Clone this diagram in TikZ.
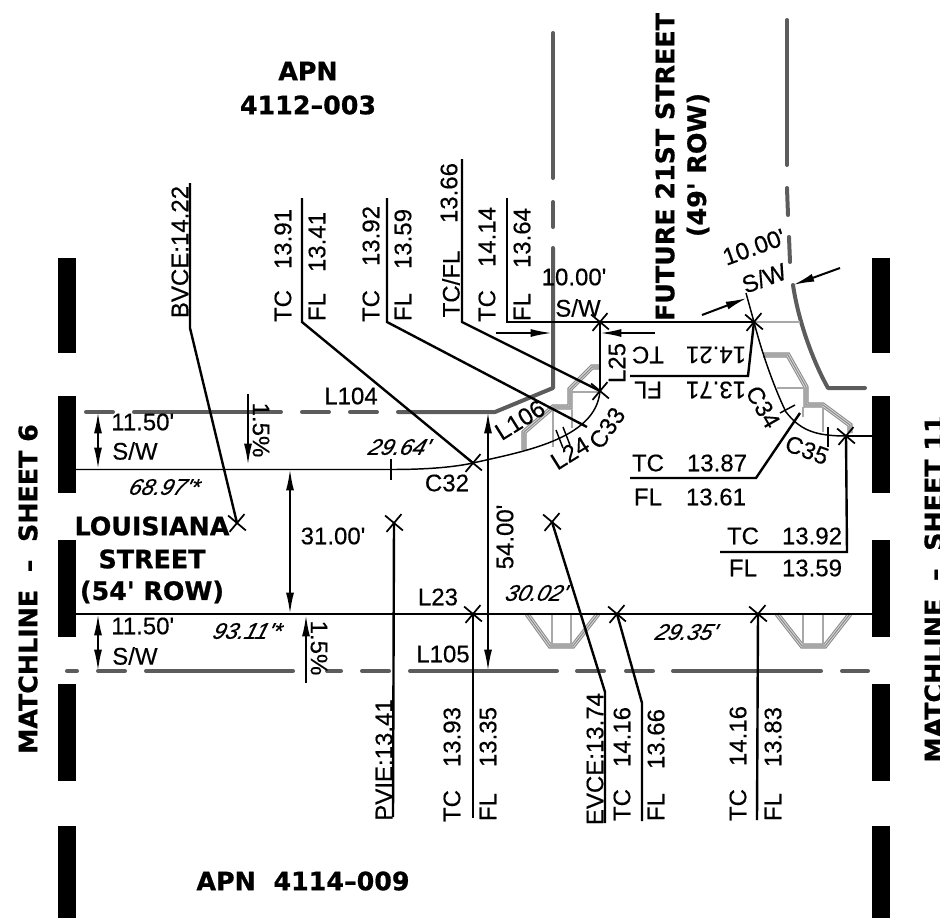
\documentclass[tikz,border=0pt]{standalone}
\usepackage{fontspec}
\setmainfont{Liberation Sans}[FakeBold=0.3]
\newfontfamily\cadfont{Liberation Sans}[FakeBold=0.35]
\newfontfamily\italfont{Liberation Sans Italic}[FakeBold=0.4]
\newfontfamily\boldcad{DejaVu Sans Bold}[FakeBold=0.8]
\usetikzlibrary{arrows.meta,shapes.misc}
\definecolor{road}{gray}{0.36}
\definecolor{curb}{gray}{0.55}
\definecolor{curbgap}{gray}{0.86}
\definecolor{inner}{gray}{0.66}
\tikzset{
  x=0.75pt,y=-0.75pt,
  cad/.style={font=\cadfont\fontsize{18}{18}\selectfont,inner sep=0pt,text=black},
  ital/.style={font=\italfont\fontsize{17}{17}\selectfont,inner sep=0pt,xslant=0.3,text=black},
  title/.style={font=\boldcad\fontsize{19}{19}\selectfont,inner sep=0pt,text=black},
  xmark/.style={shape=cross out,draw=black,line width=1.3pt,minimum size=11pt,inner sep=0pt,rotate=5},
  leader/.style={draw=black,line width=1.8pt},
  thin line/.style={draw=black,line width=1.1pt},
  dim/.style={draw=black,line width=1.5pt,{Latex[length=16pt,width=6pt]}-{Latex[length=16pt,width=6pt]}},
  dimend/.style={draw=black,line width=1.5pt,-{Latex[length=16pt,width=6pt]}},
  road line/.style={draw=road,line width=3pt,line cap=round,line join=round},
  bar/.style={fill=black},
  ramp/.style={draw=curb,line width=3.8pt,line join=miter,
     postaction={draw=curbgap,line width=2.2pt},
     postaction={draw=curb,line width=.8pt}},
  ramp inner/.style={draw=inner,line width=1.2pt},
}
\begin{document}
\begin{tikzpicture}
\useasboundingbox (0,0) rectangle (940,918);
% matchline bars
\foreach \xa in {58,872}{
 \fill[bar] (\xa,258) rectangle ++(18,95);
 \fill[bar] (\xa,396) rectangle ++(18,97);
 \fill[bar] (\xa,540) rectangle ++(18,97);
 \fill[bar] (\xa,684) rectangle ++(18,97);
 \fill[bar] (\xa,826) rectangle ++(18,92);
}
% right of way lines
\foreach \a/\b in {86/113,134/281,302/329,350/377}{\draw[road line] (\a,412)--(\b,412);}
\draw[road line] (398,412)--(495,412)--(553,388)--(553,248);
\draw[road line] (553,227)--(553,202);
\draw[road line] (553,178)--(553,33);
\foreach \a/\b in {67/77,98/125,146/293,327/341,362/389,410/557,577/604,626/653,673/821,842/868}{\draw[road line] (\a,671)--(\b,671);}
\draw[road line] (787,20)--(787,165);
\draw[road line] (787,188)--(788,215);
\draw[road line] (789,237)--(790,262);
\draw[road line] (793,285) .. controls (799,325) and (815,365) .. (828,388)--(865,388);
% ramps
\draw[ramp] (527,614)--(550,646)--(573,646)--(598,614);
\draw[ramp] (777,614)--(802,646)--(825,646)--(850,614);
\draw[ramp] (524,450)--(524,432)--(553,407)--(570,407)--(570,389)--(592,367)--(600,367);
\draw[ramp] (763,355)--(788,355)--(806,387)--(806,405)--(823,405)--(850,425)--(850,433);
\foreach \a/\b/\c/\d in {552/614/552/644,571/614/571/644,803/614/803/644,823/614/823/644,553/410/553/447,572/392/598/392,572/410/572/428,777/388/804/388,803/407/803/417,823/407/823/432}{\draw[ramp inner] (\a,\b)--(\c,\d);}
\draw[draw=inner,line width=1.2pt] (754,322)--(800,322);
% x marks
\node[xmark] (xa) at (237,523) {};
\node[xmark] (xb) at (394,523) {};
\node[xmark] (xc) at (552,522) {};
\node[xmark] (xd) at (473,463) {};
\node[xmark] (xe) at (600,391) {};
\node[xmark] (xf) at (600,322) {};
\node[xmark] (xg) at (754,322) {};
\node[xmark] (xh) at (846,436) {};
\node[xmark] (xi) at (473,614) {};
\node[xmark] (xj) at (617,614) {};
\node[xmark] (xk) at (758,614) {};
% named free ends
\coordinate (le) at (76,469.5);
\coordinate (lm) at (391,469.5);
\coordinate (be) at (76,614);
\coordinate (br) at (872,614);
\coordinate (rr) at (872,436);
\coordinate (cm) at (587,427);
\coordinate (cn) at (786,412);
% flow lines and curves
\draw[thin line] (le)--(lm) .. controls (420,469.5) and (450,468) .. (xd.center);
\draw[thin line] (xd.center) .. controls (520,452) and (596,440) .. (xe.center);
\draw[thin line] (xe.center)--(xf.center)--(xg.center);
\draw[thin line] (xg.center) .. controls (765,365) and (780,400) .. (cn) .. controls (800,430) and (815,436) .. (xh.center);
\draw[thin line] (xh.center)--(rr);
\draw[thin line] (be)--(br);
% ticks
\coordinate (t1a) at (391,459); \coordinate (t1b) at (391,480);
\coordinate (t2a) at (556,430); \coordinate (t2b) at (563,448);
\coordinate (t3a) at (563,427); \coordinate (t3b) at (570,445);
\coordinate (t4a) at (780,413); \coordinate (t4b) at (795,405);
\coordinate (t5a) at (828,427); \coordinate (t5b) at (828,447);
\foreach \p in {1,2,3,4,5}{\draw[thin line] (t\p a)--(t\p b);}
% leaders
\coordinate (aa) at (190,183); \coordinate (ab) at (190,328);
\draw[leader] (aa)--(ab)--(xa.center);
\coordinate (ba) at (302,198); \coordinate (bb) at (302,322);
\draw[leader] (ba)--(bb)--(xd.center);
\coordinate (ca) at (387,198); \coordinate (cb) at (387,322);
\draw[leader] (ca)--(cb)--(cm);
\coordinate (da) at (462,159); \coordinate (db) at (462,322);
\draw[leader] (da)--(db)--(xe.center);
\coordinate (ea) at (507,198); \coordinate (eb) at (507,322);
\draw[leader] (ea)--(eb)--(xf.center);
\coordinate (fa) at (630,376); \coordinate (fb) at (748,376);
\draw[leader] (fa)--(fb)--(xg.center);
\coordinate (ga) at (630,478); \coordinate (gb) at (756,478); \coordinate (gc) at (800,413);
\draw[leader] (ga)--(gb)--(gc);
\coordinate (ha) at (720,552); \coordinate (hb) at (847,552);
\draw[leader] (ha)--(hb)--(xh.center);
\coordinate (ia) at (393,817);
\draw[leader] (xb.center)--(ia);
\coordinate (ja) at (473,818);
\draw[leader] (xi.center)--(ja);
\coordinate (ka) at (605,692); \coordinate (kb) at (605,823);
\draw[leader] (xc.center)--(ka)--(kb);
\coordinate (la) at (642,703); \coordinate (lb) at (642,821);
\draw[leader] (xj.center)--(la)--(lb);
\coordinate (ma) at (757,820);
\draw[leader] (xk.center)--(ma);
% dimensions
\coordinate (d1a) at (98,412); \coordinate (d1b) at (98,469);
\draw[dim] (d1a)--(d1b);
\coordinate (d2a) at (98,614); \coordinate (d2b) at (98,671);
\draw[dim] (d2a)--(d2b);
\coordinate (d3a) at (290,469); \coordinate (d3b) at (290,614);
\draw[dim] (d3a)--(d3b);
\coordinate (d4a) at (488,412); \coordinate (d4b) at (488,671);
\draw[dim] (d4a)--(d4b);
\coordinate (s1a) at (248,394); \coordinate (s1b) at (248,465);
\draw[dimend] (s1a)--(s1b);
\coordinate (s2a) at (306,683); \coordinate (s2b) at (306,615);
\draw[dimend] (s2a)--(s2b);
\coordinate (w1a) at (496,333); \coordinate (w1b) at (552,333);
\draw[dimend] (w1a)--(w1b);
\coordinate (w2a) at (655,333); \coordinate (w2b) at (600,333);
\draw[dimend] (w2a)--(w2b);
\coordinate (w3a) at (702,315); \coordinate (w3b) at (747,298);
\draw[dimend] (w3a)--(w3b);
\coordinate (w4a) at (840,268); \coordinate (w4b) at (793,285);
\draw[dimend] (w4a)--(w4b);
\coordinate (w5) at (746,293);
\draw[thin line] (w5)--(xg.center);
% titles
\node[title] (t1) at (308,71) {APN};
\node[title] (t2) at (308,105) {4112–003};
\node[title,rotate=90] (t3) at (665,167) {FUTURE 21ST STREET};
\node[title,rotate=90] (t4) at (698,165) {(49' ROW)};
\node[title,rotate=90] (t5) at (28,589) {MATCHLINE \ – \ SHEET 6};
\node[title,rotate=90] (t6) at (934,589) {MATCHLINE \ – \ SHEET 11};
\node[title] (t7) at (303,881) {APN \ 4114–009};
\node[title] (t8) at (152,526) {LOUISIANA};
\node[title] (t9) at (152,559) {STREET};
\node[title] (t10) at (152,592) {(54' ROW)};
% rotated leader labels
\node[cad,rotate=90] (n1) at (180,252) {BVCE:14.22};
\node[cad,rotate=90] (n2) at (283,306) {TC};
\node[cad,rotate=90] (n3) at (283,239) {13.91};
\node[cad,rotate=90] (n4) at (317,307) {FL};
\node[cad,rotate=90] (n5) at (317,242) {13.41};
\node[cad,rotate=90] (n6) at (371,306) {TC};
\node[cad,rotate=90] (n7) at (371,236) {13.92};
\node[cad,rotate=90] (n8) at (403,307) {FL};
\node[cad,rotate=90] (n9) at (403,239) {13.59};
\node[cad,rotate=90] (n10) at (451,284) {TC/FL};
\node[cad,rotate=90] (n11) at (449,193) {13.66};
\node[cad,rotate=90] (n12) at (487,306) {TC};
\node[cad,rotate=90] (n13) at (487,237) {14.14};
\node[cad,rotate=90] (n14) at (522,307) {FL};
\node[cad,rotate=90] (n15) at (522,238) {13.64};
\node[cad,rotate=90] (n16) at (384,760) {PVIE:13.41};
\node[cad,rotate=90] (n17) at (452,806) {TC};
\node[cad,rotate=90] (n18) at (452,737) {13.93};
\node[cad,rotate=90] (n19) at (488,807) {FL};
\node[cad,rotate=90] (n20) at (488,737) {13.35};
\node[cad,rotate=90] (n21) at (595,759) {EVCE:13.74};
\node[cad,rotate=90] (n22) at (622,805) {TC};
\node[cad,rotate=90] (n23) at (622,737) {14.16};
\node[cad,rotate=90] (n24) at (656,807) {FL};
\node[cad,rotate=90] (n25) at (656,739) {13.66};
\node[cad,rotate=90] (n26) at (738,805) {TC};
\node[cad,rotate=90] (n27) at (738,736) {14.16};
\node[cad,rotate=90] (n28) at (773,807) {FL};
\node[cad,rotate=90] (n29) at (773,737) {13.83};
% horizontal leader labels
\node[cad,rotate=180] (p1) at (648,355) {TC};
\node[cad,rotate=180] (p2) at (716,355) {14.21};
\node[cad,rotate=180] (p3) at (648,390) {FL};
\node[cad,rotate=180] (p4) at (716,390) {13.71};
\node[cad] (p5) at (648,463) {TC};
\node[cad] (p6) at (717,463) {13.87};
\node[cad] (p7) at (648,497) {FL};
\node[cad] (p8) at (716,497) {13.61};
\node[cad] (p9) at (743,536) {TC};
\node[cad] (p10) at (812,536) {13.92};
\node[cad] (p11) at (743,568) {FL};
\node[cad] (p12) at (812,568) {13.59};
% dimension labels
\node[cad,anchor=west] (q1) at (111,422) {11.50'};
\node[cad,anchor=west] (q2) at (112,451) {S/W};
\node[cad,anchor=west] (q3) at (111,626) {11.50'};
\node[cad,anchor=west] (q4) at (112,656) {S/W};
\node[cad] (q5) at (333,536) {31.00'};
\node[cad,rotate=90] (q6) at (505,537) {54.00'};
\node[cad] (q7) at (574,277) {10.00'};
\node[cad] (q8) at (578,308) {S/W};
\node[cad,rotate=20] (q9) at (754,247) {10.00'};
\node[cad,rotate=20] (q10) at (764,278) {S/W};
\node[cad,rotate=-90] (q11) at (261,430) {1.5\%};
\node[cad,rotate=-90] (q12) at (319,648) {1.5\%};
% line and curve labels
\node[cad] (r1) at (351,396) {L104};
\node[cad] (r2) at (443,654) {L105};
\node[cad] (r3) at (438,597) {L23};
\node[cad,rotate=32] (r4) at (520,420) {L106};
\node[cad,rotate=32] (r5) at (570,453) {L24};
\node[cad,rotate=55] (r6) at (607,428) {C33};
\node[cad,rotate=90] (r7) at (617,363) {L25};
\node[cad,rotate=-60] (r8) at (763,407) {C34};
\node[cad,rotate=-20] (r9) at (807,450) {C35};
\node[cad] (r10) at (447,483) {C32};
% italic lengths
\node[ital] (i1) at (400,447) {29.64'};
\node[ital] (i2) at (165,487) {68.97'*};
\node[ital] (i3) at (248,631) {93.11'*};
\node[ital] (i4) at (537,593) {30.02'};
\node[ital] (i5) at (687,632) {29.35'};
\end{tikzpicture}
\end{document}
